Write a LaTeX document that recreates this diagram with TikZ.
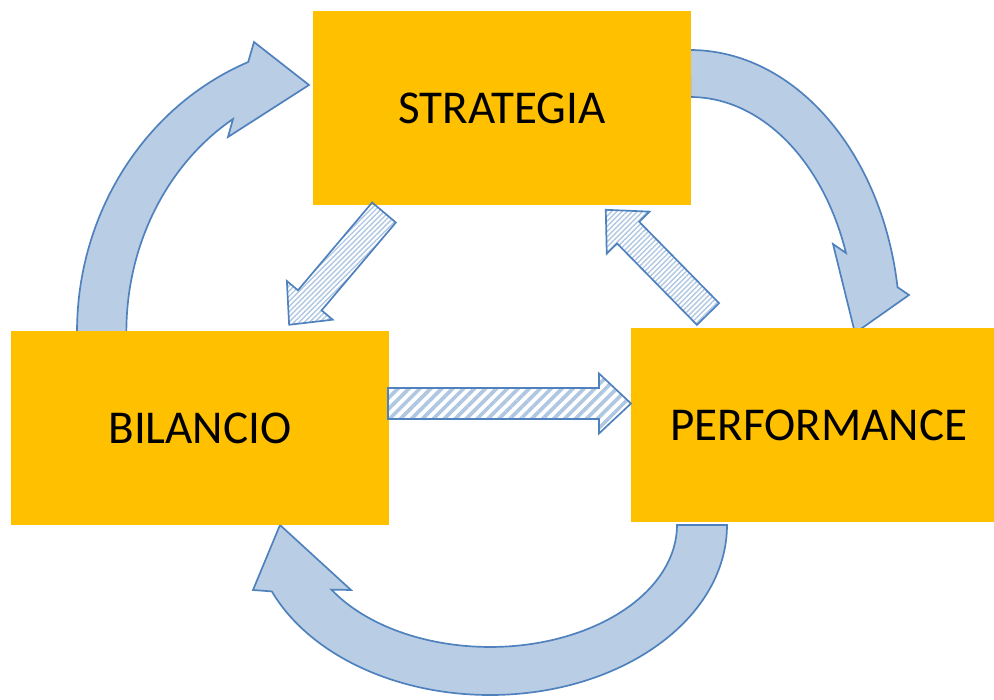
\documentclass[tikz,border=0pt]{standalone}
\usepackage{fontspec}
\setmainfont{Carlito}
\usetikzlibrary{patterns.meta}

\definecolor{boxorange}{HTML}{FFC000}
\definecolor{cyclefill}{HTML}{B9CDE5}
\definecolor{cycleline}{HTML}{4F81BD}
\definecolor{hatchblue}{HTML}{B0C7E2}

\tikzset{
  box/.style={fill=boxorange, minimum height=4.85cm, inner sep=0pt,
              font=\fontsize{33.5}{40}\selectfont},
  cyclearrow/.style={fill=cyclefill, draw=cycleline, line width=1.2pt},
  widestripe/.style={draw=cycleline, line width=1.2pt, pattern color=hatchblue,
                     pattern={Lines[angle=45, distance=5.5pt, line width=2.6pt]}},
  finestripe/.style={draw=cycleline, line width=1.2pt, pattern color=hatchblue,
                     pattern={Lines[angle=45, distance=2.6pt, line width=1pt]}}
}

% tail, angle, length, style
\newcommand{\stripearrow}[4]{%
  \draw [#4, shift={#1}, rotate=#2]
        (0, -15.5) -- ({#3 - 32}, -15.5) -- ({#3 - 32}, -30) -- (#3, 0) --
        ({#3 - 32}, 30) -- ({#3 - 32}, 15.5) -- (0, 15.5) -- cycle;
}

\begin{document}
\begin{tikzpicture}[x=0.025cm, y=-0.025cm]
  \useasboundingbox (0, 0) rectangle (994, 699);

  % Draw cycle arrows.
  \draw [cyclearrow] (690, 50)
        arc [start angle=-90, end angle=-8.8, x radius=210, y radius=280]
        -- (909, 295) -- (855, 333) -- (833, 244) -- (846, 253)
        arc [start angle=-19.3, end angle=-90, x radius=165, y radius=233]
        -- cycle;
  \draw [cyclearrow] (727, 525)
        arc [start angle=0, end angle=157, x radius=237, y radius=170]
        -- (253, 590) -- (280, 525) -- (351, 590) -- (331.4, 589.6)
        arc [start angle=148, end angle=0, x radius=187, y radius=122]
        -- cycle;
  \draw [cyclearrow] (77, 332)
        arc [start angle=180, end angle=248.1, x radius=273, y radius=291]
        -- (254, 42) -- (309, 85) -- (228, 137) -- (233, 119)
        arc [start angle=238.4, end angle=180, x radius=224, y radius=250]
        -- cycle;

  % Draw boxes.
  \node [box, minimum width=9.45cm] (strat) at (502, 108) {STRATEGIA};
  \node [box, minimum width=9.45cm] (bil) at (200, 428) {BILANCIO};
  \node [box, minimum width=9.075cm] (perf) at (812.5, 425)
        {\hspace*{0.32cm}PERFORMANCE};

  % Draw striped arrows.
  \stripearrow{(388, 403.5)}{0}{243}{widestripe}
  \stripearrow{(384, 212.5)}{229.8}{147}{finestripe}
  \stripearrow{(708, 314)}{134.45}{146}{finestripe}
\end{tikzpicture}
\end{document}
